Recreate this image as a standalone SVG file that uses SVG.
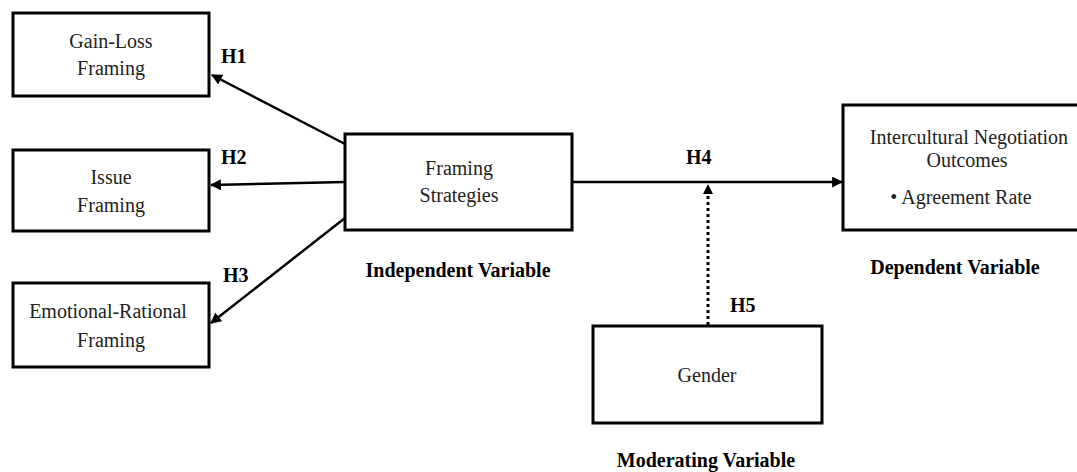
<svg xmlns="http://www.w3.org/2000/svg" width="1077" height="472" viewBox="0 0 1077 472">
<style>
.box{fill:#fff;stroke:#000;stroke-width:3}
.t{font-family:"Liberation Serif","Times New Roman",serif;font-size:20px;fill:#222;text-anchor:middle}
.b{font-family:"Liberation Serif","Times New Roman",serif;font-size:20px;font-weight:bold;fill:#000}
.c{stroke:#000;stroke-width:2.5;fill:none}
</style>
<defs>
<marker id="ah" viewBox="0 0 10 10" refX="9" refY="5" markerWidth="4.4" markerHeight="4.4" orient="auto" markerUnits="strokeWidth">
<path d="M0,0 L10,5 L0,10 Z" fill="#000"/>
</marker>
</defs>
<rect width="1077" height="472" fill="#fff"/>
<g id="connectors">
<line class="c" x1="345" y1="144" x2="212" y2="75" marker-end="url(#ah)"/>
<line class="c" x1="345" y1="182" x2="211" y2="185" marker-end="url(#ah)"/>
<line class="c" x1="345" y1="218" x2="211" y2="323" marker-end="url(#ah)"/>
<line class="c" x1="572" y1="182" x2="842" y2="182" marker-end="url(#ah)"/>
<line x1="708" y1="325" x2="708" y2="195" stroke="#000" stroke-width="3" stroke-dasharray="3,3"/>
<path d="M703,194 L708,184 L713,194 Z" fill="#000"/>
<text class="b" x="221" y="63">H1</text>
<text class="b" x="221" y="164">H2</text>
<text class="b" x="223" y="282">H3</text>
<text class="b" x="686" y="164">H4</text>
<text class="b" x="730" y="312">H5</text>
</g>
<g id="gain-loss">
<rect class="box" x="13" y="13" width="196" height="83"/>
<text class="t" x="111" y="48">Gain-Loss</text>
<text class="t" x="111" y="75">Framing</text>
</g>
<g id="issue">
<rect class="box" x="13" y="150" width="196" height="81"/>
<text class="t" x="111" y="184">Issue</text>
<text class="t" x="111" y="212">Framing</text>
</g>
<g id="emotional">
<rect class="box" x="13" y="283" width="196" height="84"/>
<text class="t" x="108" y="318">Emotional-Rational</text>
<text class="t" x="111" y="347">Framing</text>
</g>
<g id="framing-strategies">
<rect class="box" x="345" y="134" width="227" height="96"/>
<text class="t" x="459" y="175">Framing</text>
<text class="t" x="459" y="202">Strategies</text>
<text class="b" x="458" y="277" text-anchor="middle">Independent Variable</text>
</g>
<g id="outcomes">
<rect class="box" x="843" y="105" width="250" height="125"/>
<text class="t" x="969" y="144">Intercultural Negotiation</text>
<text class="t" x="967" y="167">Outcomes</text>
<text class="t" x="961" y="204">•  Agreement Rate</text>
<text class="b" x="955" y="274" text-anchor="middle">Dependent Variable</text>
</g>
<g id="gender">
<rect class="box" x="593" y="326" width="229" height="97"/>
<text class="t" x="707" y="382">Gender</text>
<text class="b" x="706" y="467" text-anchor="middle">Moderating Variable</text>
</g>
</svg>
